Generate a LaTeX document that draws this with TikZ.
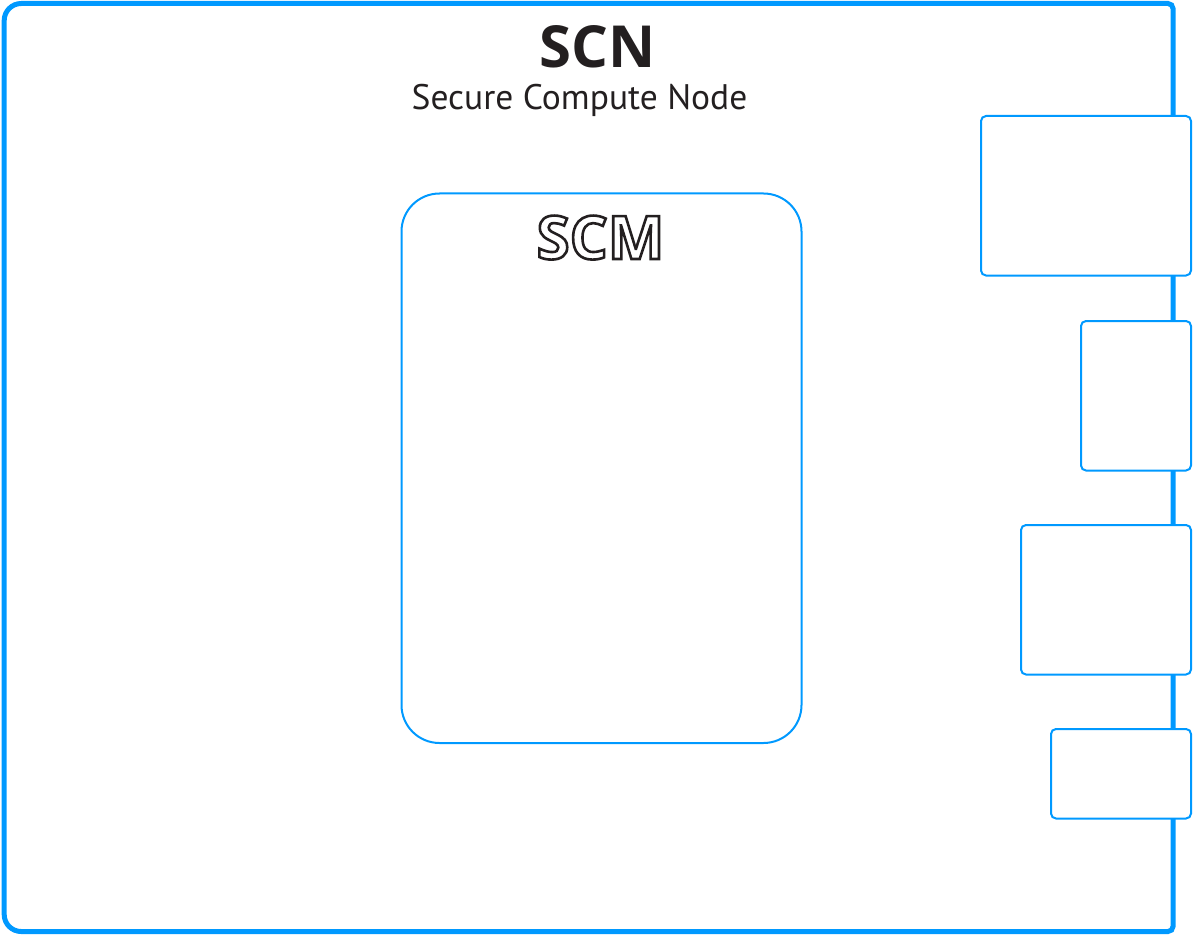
\documentclass[tikz,border=0pt]{standalone}
\usepackage{fontspec}
\setmainfont{PT Sans}
\newfontfamily\headfont{Open Sans}
\definecolor{frameblue}{RGB}{0,153,255}
\definecolor{txtdark}{RGB}{35,31,32}
\newcommand{\outlinetext}[1]{\special{pdf:literal 1 Tr 2.6 w}#1\special{pdf:literal 0 Tr}}
\begin{document}
\begin{tikzpicture}[x=1pt,y=-1pt,
  portbox/.style={draw=frameblue,line width=2pt,fill=white,rounded corners=5pt},
  titletext/.style={text=txtdark,inner sep=0pt,anchor=base}]
\useasboundingbox (0,0) rectangle (1193,941);
% outer frame
\draw[frameblue,line width=5pt]
  (600,3.5) -- (1168,3.5) arc[start angle=-90,end angle=0,radius=5] -- (1173,926.5)
  arc[start angle=0,end angle=90,radius=5] -- (21.2,931.5)
  arc[start angle=90,end angle=180,radius=17] -- (4.2,20.5)
  arc[start angle=180,end angle=270,radius=17] -- cycle;
% SCM box
\draw[frameblue,line width=2pt,rounded corners=38pt] (401.5,193.5) rectangle (801.5,743);
% right-hand boxes
\draw[portbox] (981,116) rectangle (1191,275.5) node[pos=0.5,inner sep=0pt] (p1) {};
\draw[portbox] (1081,321) rectangle (1191,470.5) node[pos=0.5,inner sep=0pt] (p2) {};
\draw[portbox] (1021,525) rectangle (1191,674.5) node[pos=0.5,inner sep=0pt] (p3) {};
\draw[portbox] (1051,729) rectangle (1191,818.5) node[pos=0.5,inner sep=0pt] (p4) {};
% titles
\node[titletext,font=\headfont\fontsize{58}{60}\selectfont\bfseries] (scn) at (597.5,68) {SCN};
\node[titletext,font=\fontsize{35.5}{40}\selectfont] (scnsub) at (579.5,109.5) {Secure Compute Node};
\node[titletext,font=\headfont\fontsize{60}{64}\selectfont\bfseries] (scm) at (600.5,259) {\outlinetext{SCM}};
\end{tikzpicture}
\end{document}
